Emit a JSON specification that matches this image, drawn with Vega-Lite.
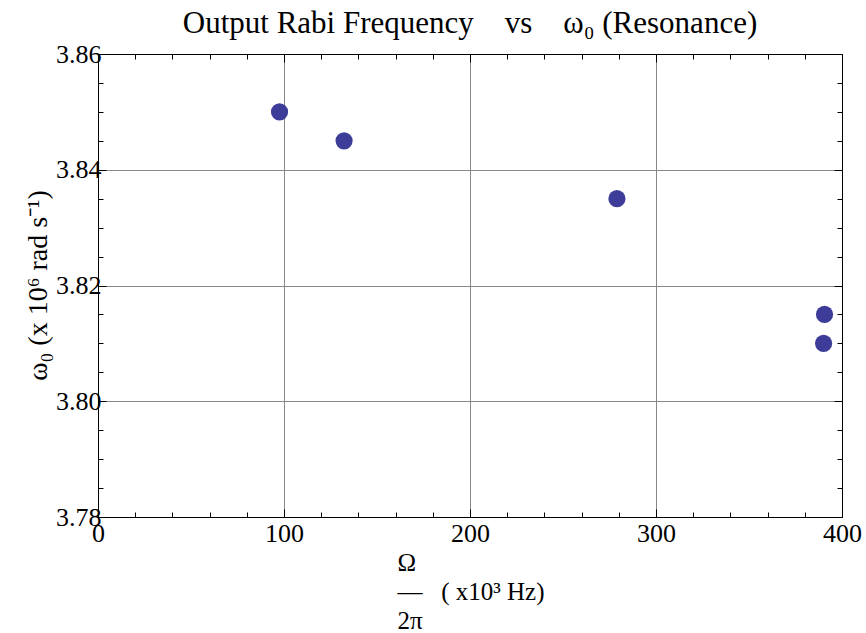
{
  "$schema": "https://vega.github.io/schema/vega-lite/v6.json",
  "autosize": "none",
  "width": 744,
  "height": 463,
  "padding": {"left": 98, "top": 54, "right": 24, "bottom": 116},
  "config": {
    "font": "Liberation Serif",
    "view": {"stroke": null},
    "axis": {"labelFont": "Liberation Serif", "titleFont": "Liberation Serif", "tickColor": "black", "domainColor": "black", "labelColor": "black", "titleColor": "black", "titleFontWeight": "normal"}
  },
  "title": {
    "text": "Output Rabi Frequency\u00a0\u00a0\u00a0 vs\u00a0\u00a0\u00a0 ω₀ (Resonance)",
    "font": "Liberation Serif",
    "fontSize": 31,
    "fontWeight": "normal",
    "color": "black",
    "anchor": "middle",
    "baseline": "alphabetic",
    "offset": -23
  },
  "data": {
    "values": [
      {"omega": 97.6, "w0": 3.850},
      {"omega": 132.3, "w0": 3.845},
      {"omega": 279, "w0": 3.835},
      {"omega": 390.6, "w0": 3.815},
      {"omega": 390.1, "w0": 3.810}
    ]
  },
  "resolve": {"axis": {"x": "independent", "y": "independent"}},
  "layer": [
    {
      "mark": {"type": "point", "opacity": 0},
      "encoding": {
        "x": {"field": "omega", "type": "quantitative", "scale": {"domain": [0, 400], "nice": false},
          "axis": {"orient": "bottom", "values": [100, 200, 300], "grid": true, "gridColor": "#888888", "gridWidth": 1, "ticks": false, "labels": false, "domain": false, "title": null}},
        "y": {"field": "w0", "type": "quantitative", "scale": {"domain": [3.78, 3.86], "nice": false, "zero": false},
          "axis": {"orient": "left", "values": [3.80, 3.82, 3.84], "grid": true, "gridColor": "#888888", "gridWidth": 1, "ticks": false, "labels": false, "domain": false, "title": null}}
      }
    },
    {
      "mark": {"type": "point", "opacity": 0},
      "encoding": {
        "x": {"field": "omega", "type": "quantitative",
          "axis": {"orient": "bottom", "values": [20,40,60,80,120,140,160,180,220,240,260,280,320,340,360,380], "grid": false, "ticks": true, "tickSize": -5, "labels": false, "domain": false, "title": null}},
        "y": {"field": "w0", "type": "quantitative",
          "axis": {"orient": "left", "values": [3.785,3.79,3.795,3.805,3.81,3.815,3.825,3.83,3.835,3.845,3.85,3.855], "grid": false, "ticks": true, "tickSize": -5, "labels": false, "domain": false, "title": null}}
      }
    },
    {
      "mark": {"type": "point", "opacity": 0},
      "encoding": {
        "x": {"field": "omega", "type": "quantitative",
          "axis": {"orient": "top", "values": [0,100,200,300,400], "grid": false, "ticks": true, "tickSize": -8, "labels": false, "domain": true, "domainWidth": 1, "title": null}},
        "y": {"field": "w0", "type": "quantitative",
          "axis": {"orient": "right", "values": [3.78,3.80,3.82,3.84,3.86], "grid": false, "ticks": true, "tickSize": -8, "labels": false, "domain": true, "domainWidth": 1, "title": null}}
      }
    },
    {
      "mark": {"type": "point", "opacity": 0},
      "encoding": {
        "x": {"field": "omega", "type": "quantitative",
          "axis": {"orient": "top", "values": [20,40,60,80,120,140,160,180,220,240,260,280,320,340,360,380], "grid": false, "ticks": true, "tickSize": -5, "labels": false, "domain": false, "title": null}},
        "y": {"field": "w0", "type": "quantitative",
          "axis": {"orient": "right", "values": [3.785,3.79,3.795,3.805,3.81,3.815,3.825,3.83,3.835,3.845,3.85,3.855], "grid": false, "ticks": true, "tickSize": -5, "labels": false, "domain": false, "title": null}}
      }
    },
    {
      "mark": {"type": "circle", "size": 295, "color": "#3d3d99", "opacity": 1},
      "encoding": {
        "x": {"field": "omega", "type": "quantitative",
          "axis": {"orient": "bottom", "values": [0,100,200,300,400], "grid": false, "ticks": true, "tickSize": -8, "labels": true, "labelFontSize": 26, "labelPadding": 11, "labelFlush": false, "labelOverlap": false, "labelBound": false, "domain": true, "domainWidth": 1,
            "title": ["\u00a0Ω", "—\u00a0\u00a0\u00a0( x10³ Hz)", "2π"], "titleFontSize": 25, "titleAlign": "left", "titleAnchor": "start", "titleX": 299, "titleY": 53, "titleBaseline": "alphabetic", "titleLineHeight": 29}},
        "y": {"field": "w0", "type": "quantitative",
          "axis": {"orient": "left", "values": [3.78,3.80,3.82,3.84,3.86], "format": ".2f", "grid": false, "ticks": true, "tickSize": -8, "labels": true, "labelFontSize": 26, "labelPadding": 5, "labelFlush": false, "labelOverlap": false, "labelBound": false, "domain": true, "domainWidth": 1,
            "title": "ω₀ (x 10⁶ rad s⁻¹)", "titleFontSize": 28, "titleX": -52, "titleY": 231, "titleAngle": -90, "titleBaseline": "alphabetic", "titleAlign": "center"}}
      }
    }
  ]
}
